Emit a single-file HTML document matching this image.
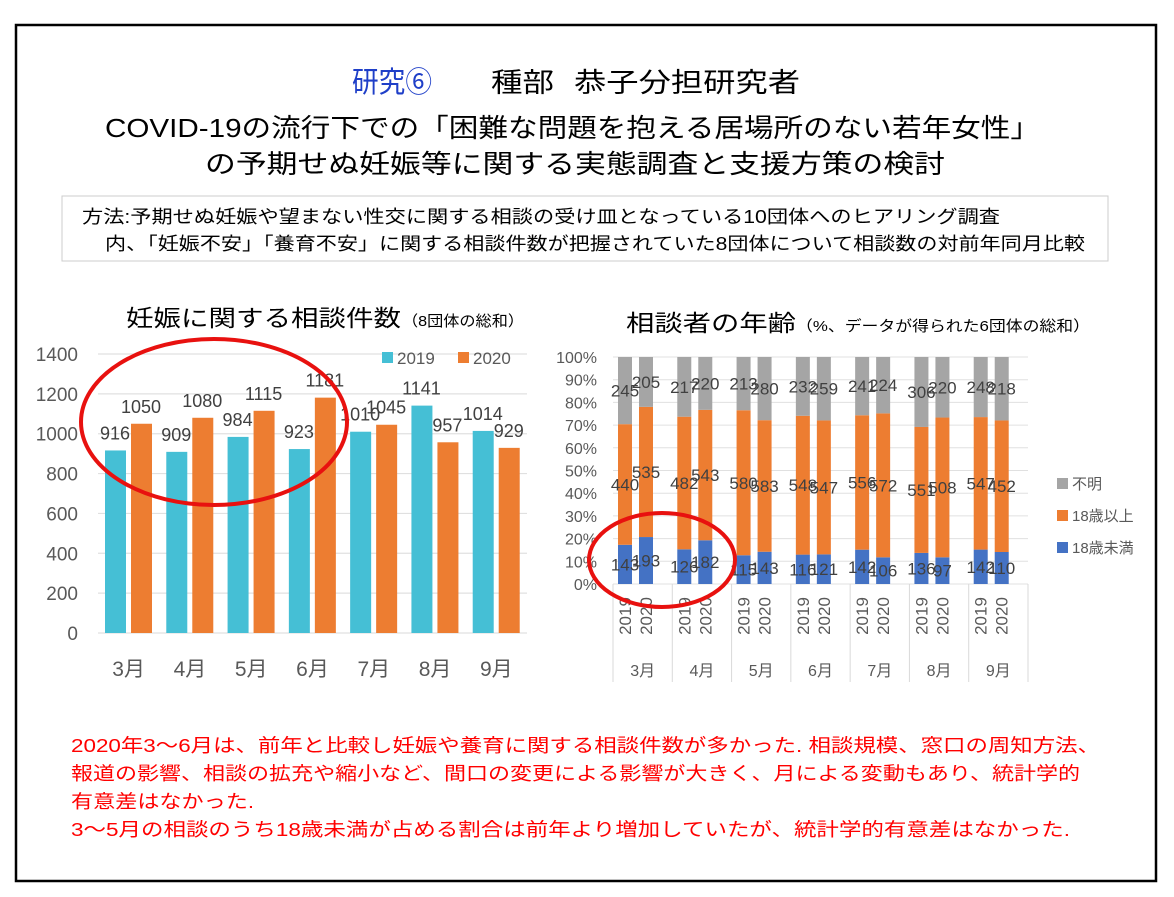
<!DOCTYPE html>
<html><head><meta charset="utf-8"><style>
body{margin:0;width:1174px;height:892px;background:#fff;overflow:hidden;font-family:"Liberation Sans","Noto Sans CJK JP",sans-serif}
svg text{font-family:"Liberation Sans","Noto Sans CJK JP",sans-serif}
</style></head><body>
<svg width="1174" height="892">
<rect x="16" y="25" width="1140" height="856" fill="none" stroke="#000" stroke-width="2.5"/>
<text x="352" y="92" font-size="29" fill="#1f3fc8" textLength="80" lengthAdjust="spacingAndGlyphs">研究⑥</text>
<text x="491" y="92" font-size="27" fill="#000" textLength="63" lengthAdjust="spacingAndGlyphs">種部</text>
<text x="574" y="92" font-size="27" fill="#000" textLength="226" lengthAdjust="spacingAndGlyphs">恭子分担研究者</text>
<text x="105" y="137" font-size="26" fill="#000" textLength="935" lengthAdjust="spacingAndGlyphs">COVID-19の流行下での「困難な問題を抱える居場所のない若年女性」</text>
<text x="205" y="173" font-size="26" fill="#000" textLength="740" lengthAdjust="spacingAndGlyphs">の予期せぬ妊娠等に関する実態調査と支援方策の検討</text>
<rect x="62" y="196" width="1046" height="65" fill="#fff" stroke="#ccc"/>
<text x="82" y="223" font-size="18" textLength="918" lengthAdjust="spacingAndGlyphs">方法:予期せぬ妊娠や望まない性交に関する相談の受け皿となっている10団体へのヒアリング調査</text>
<text x="105" y="250" font-size="18" textLength="980" lengthAdjust="spacingAndGlyphs">内、「妊娠不安」「養育不安」に関する相談件数が把握されていた8団体について相談数の対前年同月比較</text>
<text x="126" y="326" font-size="23" textLength="275" lengthAdjust="spacingAndGlyphs">妊娠に関する相談件数</text>
<text x="402" y="326" font-size="15" textLength="122" lengthAdjust="spacingAndGlyphs">（8団体の総和）</text>
<text x="626" y="331" font-size="23" textLength="170" lengthAdjust="spacingAndGlyphs">相談者の年齢</text>
<text x="796" y="331" font-size="15" textLength="294" lengthAdjust="spacingAndGlyphs">（%、データが得られた6団体の総和）</text>
<g id="left"></g>
<g id="right"></g>
<ellipse cx="214" cy="422" rx="133" ry="83" fill="none" stroke="#e8110f" stroke-width="4"/>
<ellipse cx="662" cy="560" rx="73" ry="47" fill="none" stroke="#e8110f" stroke-width="4"/>
<g fill="#f00" font-size="18.5">
<text x="71" y="752" textLength="1029" lengthAdjust="spacingAndGlyphs">2020年3～6月は、前年と比較し妊娠や養育に関する相談件数が多かった. 相談規模、窓口の周知方法、</text>
<text x="71" y="780" textLength="1009" lengthAdjust="spacingAndGlyphs">報道の影響、相談の拡充や縮小など、間口の変更による影響が大きく、月による変動もあり、統計学的</text>
<text x="71" y="808" textLength="183" lengthAdjust="spacingAndGlyphs">有意差はなかった.</text>
<text x="71" y="836" textLength="999" lengthAdjust="spacingAndGlyphs">3～5月の相談のうち18歳未満が占める割合は前年より増加していたが、統計学的有意差はなかった.</text>
</g>
</svg>
<script>
const months=["3月","4月","5月","6月","7月","8月","9月"];
const totals2019=[916,909,984,923,1010,1141,1014];
const totals2020=[1050,1080,1115,1181,1045,957,929];
const yTicks=[0,200,400,600,800,1000,1200,1400];
const u2019=[143,126,115,116,142,136,142];
const m2019=[440,482,580,548,556,551,547];
const k2019=[245,217,213,232,241,306,248];
const u2020=[193,182,143,121,106,97,110];
const m2020=[535,543,583,547,572,508,452];
const k2020=[205,220,280,259,224,220,218];
const pctTicks=[0,10,20,30,40,50,60,70,80,90,100];
const NS="http://www.w3.org/2000/svg";
function mk(p,t,a,txt){const e=document.createElementNS(NS,t);for(const k in a)e.setAttribute(k,a[k]);if(txt!==undefined)e.textContent=txt;p.appendChild(e);return e;}
const L=document.getElementById('left');
const lx0=98,lx1=527,ly0=633,ly1=354;
const ly=v=>ly0-(v/1400)*(ly0-ly1);
const gw=(lx1-lx0)/months.length;
yTicks.forEach(t=>{
 const g=mk(L,'line',{x1:lx0,x2:lx1,y1:ly(t),y2:ly(t),stroke:'#e0e0e0','stroke-width':1.2});
 
 
 const tx=mk(L,'text',{x:78,y:ly(t)+7,'text-anchor':'end','font-size':19,fill:'#595959'},t);
 
 
});
months.forEach((m,i)=>{
 const gx=lx0+i*gw;
 const b1=mk(L,'rect',{x:gx+7,y:ly(totals2019[i]),width:21,height:ly0-ly(totals2019[i]),fill:'#45bfd5'});
 
 
 const b2=mk(L,'rect',{x:gx+33,y:ly(totals2020[i]),width:21,height:ly0-ly(totals2020[i]),fill:'#ed7d31'});
 
 
 const t1=mk(L,'text',{x:gx+17,y:ly(totals2019[i])-11,'text-anchor':'middle','font-size':18,fill:'#404040'},totals2019[i]);
 
 
 const t2=mk(L,'text',{x:gx+43,y:ly(totals2020[i])-11,'text-anchor':'middle','font-size':18,fill:'#404040'},totals2020[i]);
 
 
 const ml=mk(L,'text',{x:gx+gw/2,y:676,'text-anchor':'middle','font-size':21,fill:'#595959'},m);
 
 
});
const lg=mk(L,'g',{});


mk(lg,'rect',{x:382,y:352,width:11,height:11,fill:'#45bfd5'});
mk(lg,'text',{x:397,y:364,'font-size':17,fill:'#595959'},'2019');
mk(lg,'rect',{x:458,y:352,width:11,height:11,fill:'#ed7d31'});
mk(lg,'text',{x:473,y:364,'font-size':17,fill:'#595959'},'2020');
const R=document.getElementById('right');
const rx0=613,rx1=1028,ry0=584,ry1=357;
const ry=p=>ry0-(p/100)*(ry0-ry1);
const rgw=(rx1-rx0)/months.length;
pctTicks.forEach(t=>{
 const g=mk(R,'line',{x1:rx0,x2:rx1,y1:ry(t),y2:ry(t),stroke:'#e0e0e0','stroke-width':1});
 
 
 const tx=mk(R,'text',{x:597,y:ry(t)+6,'text-anchor':'end','font-size':16,fill:'#595959'},t+'%');
 
 
});
const cols=['#4472c4','#ed7d31','#a5a5a5'];
months.forEach((m,i)=>{
 const gx=rx0+i*rgw;
 const dv=mk(R,'line',{x1:gx,x2:gx,y1:ry0,y2:682,stroke:'#d9d9d9'});
 
 
 [[u2019,m2019,k2019,'2019',5],[u2020,m2020,k2020,'2020',26]].forEach(([u,md,k,yr,off])=>{
  const vals=[u[i],md[i],k[i]];const tot=vals[0]+vals[1]+vals[2];
  let cum=0;const bx=gx+off;
  vals.forEach((v,j)=>{
   const p0=cum/tot*100,p1=(cum+v)/tot*100;cum+=v;
   const r=mk(R,'rect',{x:bx,y:ry(p1),width:14,height:ry(p0)-ry(p1),fill:cols[j]});
   
   
   const t=mk(R,'text',{x:bx+7,y:(ry(p0)+ry(p1))/2+6,'text-anchor':'middle','font-size':17,fill:'#404040'},v);
   
   
  });
  const yl=mk(R,'text',{x:0,y:0,'font-size':17,fill:'#595959',transform:`translate(${bx+13},616) rotate(-90)`,'text-anchor':'middle'},yr);
  
  
 });
 const ml=mk(R,'text',{x:gx+rgw/2,y:676,'text-anchor':'middle','font-size':16,fill:'#595959'},m);
 
 
});
const ed=mk(R,'line',{x1:rx1,x2:rx1,y1:ry0,y2:682,stroke:'#d9d9d9'});


const rl=mk(R,'g',{});


[['不明',cols[2],489],['18歳以上',cols[1],521],['18歳未満',cols[0],553]].forEach(([n,c,y])=>{
 mk(rl,'rect',{x:1057,y:y-11,width:11,height:11,fill:c});
 mk(rl,'text',{x:1072,y:y,'font-size':15,fill:'#595959'},n);
});
</script>
</body></html>
